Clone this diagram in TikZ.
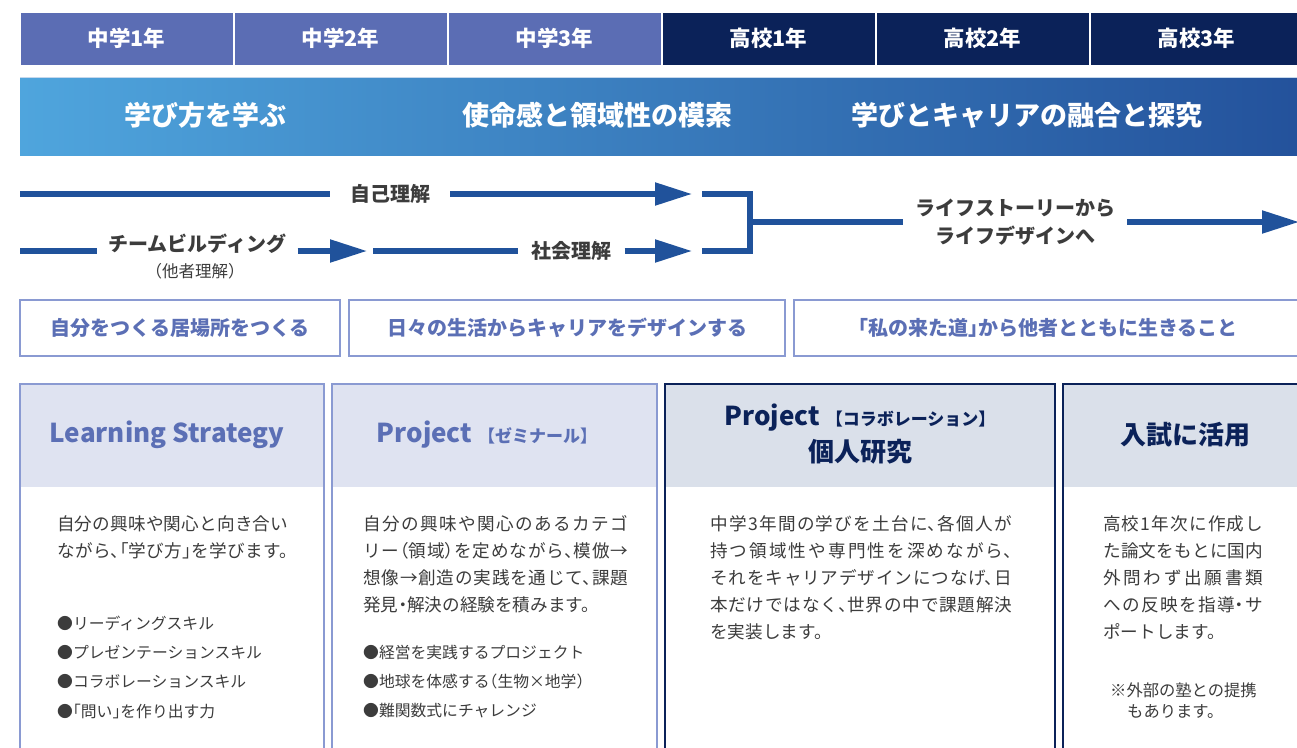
\documentclass[tikz,border=0pt]{standalone}
\usepackage{fontspec}
\setmainfont{Noto Sans CJK JP}
\newfontfamily\jpH{Noto Sans CJK JP}[RawFeature=+halt]
\XeTeXlinebreaklocale "ja"
\XeTeXlinebreakskip=0pt plus 1pt
\newcommand\jline[2]{\vbox{\hsize=#1\parindent=0pt\parfillskip=0pt\rightskip=0pt\leftskip=0pt\noindent #2}}
\usetikzlibrary{arrows.meta}
\definecolor{purp}{HTML}{5B6DB4}
\definecolor{navy}{HTML}{0B2259}
\definecolor{gradL}{HTML}{4FA5DD}
\definecolor{gradR}{HTML}{23519B}
\definecolor{arr}{HTML}{20529B}
\definecolor{boxb}{HTML}{8A9AD2}
\definecolor{boxt}{HTML}{5B6FB5}
\definecolor{hdrA}{HTML}{DFE3F1}
\definecolor{hdrB}{HTML}{DAE0EA}
\definecolor{txt}{HTML}{3C3C3C}
\definecolor{bandline}{HTML}{C6D8EC}
\tikzset{
  yearcell/.style={draw=white, line width=1pt, minimum width=213pt, minimum height=53pt, inner sep=0pt,
    text=white, font=\fontsize{21.5}{21.5}\selectfont\bfseries},
  bandtxt/.style={text=white, font=\fontsize{27}{27}\selectfont\bfseries, inner sep=0pt},
  flow/.style={draw=arr, line width=5.2pt},
  flowarr/.style={flow, -{Triangle[length=37pt,width=22pt]}},
  flowtxt/.style={text=txt, font=\fontsize{20}{20}\selectfont\bfseries, inner ysep=0pt},
  themebox/.style={draw=boxb, line width=1.3pt, fill=white, minimum height=56pt, inner sep=0pt,
    text=boxt, font=\jpH\fontsize{20}{20}\selectfont\bfseries},
  cardA/.style={draw=boxb, line width=1.6pt, fill=white},
  cardB/.style={draw=navy, line width=1.3pt, fill=white},
  titleA/.style={text=boxt, font=\fontsize{26}{26}\selectfont\bfseries, inner sep=0pt},
  titleB/.style={text=navy, font=\fontsize{26}{26}\selectfont\bfseries, inner sep=0pt},
  bodytxt/.style={text=txt, font=\jpH\fontsize{17.6}{18}\selectfont, inner sep=0pt, anchor=west},
  bullettxt/.style={text=txt, font=\jpH\fontsize{15.8}{16}\selectfont, inner sep=0pt, anchor=west},
}
\begin{document}
\begin{tikzpicture}[x=1pt,y=-1pt]
\useasboundingbox (0,0) rectangle (1297,747);
\fill[white] (0,0) rectangle (1297,747);
\begin{scope}
\clip (0,0) rectangle (1297,747);
% year header
\node[yearcell, fill=purp] (y1) at (126.5,38.5) {中学1年};
\node[yearcell, fill=purp] (y2) at (340.5,38.5) {中学2年};
\node[yearcell, fill=purp] (y3) at (554.5,38.5) {中学3年};
\node[yearcell, fill=navy] (y4) at (768.5,38.5) {高校1年};
\node[yearcell, fill=navy] (y5) at (982.5,38.5) {高校2年};
\node[yearcell, fill=navy] (y6) at (1196.5,38.5) {高校3年};
% band
\shade[left color=gradL, right color=gradR] (20,78) rectangle (1310,155);
\draw[bandline, line width=1.5pt] (20,77.5) -- (1310,77.5);
\node[bandtxt] (b1) at (205,115) {学び方を学ぶ};
\node[bandtxt] (b2) at (597,115) {使命感と領域性の模索};
\node[bandtxt] (b3) at (1027,115) {学びとキャリアの融合と探究};
% flow row 1
\coordinate (r1s) at (20,194);
\node[flowtxt, inner xsep=20pt] (jiko) at (390,194) {自己理解};
\coordinate (r1e) at (692,194);
\draw[flow] (r1s) -- (jiko.west);
\draw[flowarr] (jiko.east) -- (r1e);
% flow row 2
\coordinate (r2s) at (20,251);
\node[flowtxt, inner xsep=11pt] (team) at (197.5,244) {チームビルディング};
\node[text=txt, font=\fontsize{16.5}{17}\selectfont, inner sep=0pt] (tasha) at (195,271) {（他者理解）};
\coordinate (r2a) at (367,251);
\coordinate (r2b) at (373,251);
\node[flowtxt, inner xsep=13pt] (shakai) at (571.5,251) {社会理解};
\coordinate (r2e) at (692,251);
\draw[flow] (r2s) -- (r2s -| team.west);
\draw[flowarr] (team.east |- r2s) -- (r2a);
\draw[flow] (r2b) -- (shakai.west);
\draw[flowarr] (shakai.east) -- (r2e);
% bracket
\coordinate (bk1) at (702,194);
\coordinate (bk2) at (702,251);
\coordinate (bkm) at (750,222);
\draw[flow, line cap=butt] (bk1) -| (750,251) -- (bk2);
\node[text=txt, font=\fontsize{20}{28}\selectfont\bfseries, align=center, inner xsep=12pt, inner ysep=0pt] (life) at (1015,222) {ライフストーリーから\\ライフデザインへ};
\coordinate (r3e) at (1299,222);
\draw[flow] (bkm) -- (life.west |- bkm);
\draw[flowarr] (life.east |- bkm) -- (r3e);
% theme boxes
\node[themebox, minimum width=320pt] (t1) at (180,328) {自分をつくる居場所をつくる};
\node[themebox, minimum width=436pt] (t2) at (567,328) {日々の生活からキャリアをデザインする};
\node[themebox, minimum width=508pt] (t3) at (1048,328) {「私の来た道」から他者とともに生きること};
% cards
\draw[cardA] (20,384) rectangle (324,760);
\fill[hdrA] (20.8,384.8) rectangle (323.2,487);
\draw[cardA] (332,384) rectangle (657,760);
\fill[hdrA] (332.8,384.8) rectangle (656.2,487);
\draw[cardB] (665,384) rectangle (1055,760);
\fill[hdrB] (665.7,384.7) rectangle (1054.3,487);
\draw[cardB] (1063,384) rectangle (1310,760);
\fill[hdrB] (1063.7,384.7) rectangle (1310,487);
\node[titleA] (c1t) at (167,435) {Learning Strategy};
\node[titleA] (c2t) at (487,435) {Project {\fontsize{17}{17}\selectfont【ゼミナール】}};
\node[titleB] (c3t) at (860,418) {Project {\fontsize{17}{17}\selectfont【コラボレーション】}};
\node[titleB] (c3u) at (860,452) {個人研究};
\node[titleB] (c4t) at (1185,435) {入試に活用};
% card 1 body
\node[bodytxt] (c1a) at (57,524) {\jline{231pt}{自分の興味や関心と向き合い}};
\node[bodytxt] (c1b) at (57,551) {\jline{231pt}{ながら、「学び方」を学びます。}};
\node[bullettxt] (c1c) at (57,623) {●リーディングスキル};
\node[bullettxt] (c1d) at (57,652) {●プレゼンテーションスキル};
\node[bullettxt] (c1e) at (57,681) {●コラボレーションスキル};
\node[bullettxt] (c1f) at (57,711) {●「問い」を作り出す力};
% card 2 body
\node[bodytxt] (c2a) at (363,524) {\jline{265pt}{自分の興味や関心のあるカテゴ}};
\node[bodytxt] (c2b) at (363,551) {\jline{265pt}{リー（領域）を定めながら、模倣→}};
\node[bodytxt] (c2c) at (363,578) {\jline{265pt}{想像→創造の実践を通じて、課題}};
\node[bodytxt] (c2d) at (363,605) {発見・解決の経験を積みます。};
\node[bullettxt] (c2e) at (363,652) {●経営を実践するプロジェクト};
\node[bullettxt] (c2f) at (363,681) {●地球を体感する（生物×地学）};
\node[bullettxt] (c2g) at (363,711) {●難関数式にチャレンジ};
% card 3 body
\node[bodytxt] (c3a) at (710,524) {\jline{302pt}{中学3年間の学びを土台に、各個人が}};
\node[bodytxt] (c3b) at (710,551) {\jline{302pt}{持つ領域性や専門性を深めながら、}};
\node[bodytxt] (c3c) at (710,578) {\jline{302pt}{それをキャリアデザインにつなげ、日}};
\node[bodytxt] (c3d) at (710,605) {\jline{302pt}{本だけではなく、世界の中で課題解決}};
\node[bodytxt] (c3e) at (710,632) {を実装します。};
% card 4 body
\node[bodytxt] (c4a) at (1103,524) {\jline{160pt}{高校1年次に作成し}};
\node[bodytxt] (c4b) at (1103,551) {\jline{160pt}{た論文をもとに国内}};
\node[bodytxt] (c4c) at (1103,578) {\jline{160pt}{外問わず出願書類}};
\node[bodytxt] (c4d) at (1103,605) {\jline{160pt}{への反映を指導・サ}};
\node[bodytxt] (c4e) at (1103,632) {ポートします。};
\node[bullettxt, font=\jpH\fontsize{16.3}{17}\selectfont] (c4f) at (1110,690) {※外部の塾との提携};
\node[bullettxt, font=\jpH\fontsize{16.3}{17}\selectfont] (c4g) at (1127,712) {もあります。};
\end{scope}
\end{tikzpicture}
\end{document}
